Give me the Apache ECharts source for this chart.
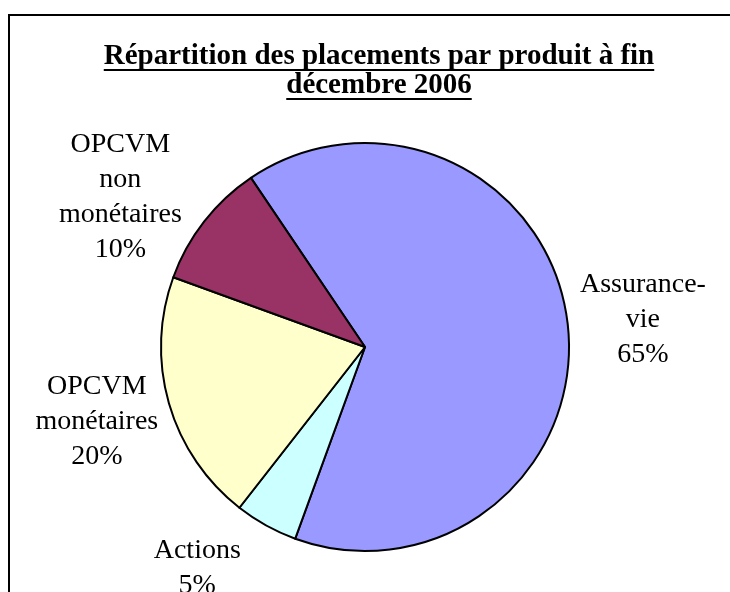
<!DOCTYPE html>
<html>
<head>
<meta charset="utf-8">
<script src="https://cdn.jsdelivr.net/npm/echarts@6/dist/echarts.min.js"></script>
<style>
  html, body { margin: 0; padding: 0; background: #fff; }
  #chart { width: 730px; height: 592px; }
</style>
</head>
<body>
<div id="chart"></div>
<script>
// données du graphique
var titleLines = ['Répartition des placements par produit à fin', 'décembre 2006'];
var categories = ['Assurance-\nvie', 'Actions', 'OPCVM\nmonétaires', 'OPCVM\nnon\nmonétaires'];
var values = [65, 5, 20, 10];
var colors = ['#9999FF', '#CCFFFF', '#FFFFCC', '#993366'];

var titleFont = "bold 29px 'Liberation Serif'";
var labelFont = "'Liberation Serif'";
// décalage des étiquettes (comme Excel les place)
var labelShift = [[0, 7], [-32, -24], [1, -3], [-24, 23]];

function textWidth(txt, font) {
    var c = document.createElement('canvas').getContext('2d');
    c.font = font;
    return c.measureText(txt).width;
}

var pieData = [];
var ringData = [];
for (var i = 0; i < values.length; i++) {
    pieData.push({name: categories[i], value: values[i], itemStyle: {color: colors[i]}});
    ringData.push({name: categories[i], value: values[i]});
}

// cadre + titre souligné
var graphics = [{
    type: 'polyline',
    shape: {points: [[9, 592], [9, 15], [730, 15]]},
    style: {stroke: '#000', lineWidth: 2, fill: null}
}];
var titleX = 379;
var titleY = [57, 86];
titleLines.forEach(function (t, k) {
    var w = textWidth(t, titleFont);
    graphics.push({
        type: 'text',
        x: titleX, y: titleY[k],
        style: {text: t, font: titleFont, fill: '#000', align: 'center', verticalAlign: 'middle'}
    });
    graphics.push({
        type: 'rect',
        shape: {x: titleX - w / 2, y: titleY[k] + 12, width: w, height: 2},
        style: {fill: '#000'}
    });
});

var myChart = echarts.init(document.getElementById('chart'));
var option = {
    animation: false,
    graphic: graphics,
    series: [
        {
            type: 'pie',
            center: [365, 347],
            radius: 204,
            startAngle: 124,
            clockwise: true,
            silent: true,
            label: {show: false},
            labelLine: {show: false},
            itemStyle: {borderColor: '#000', borderWidth: 2},
            data: pieData
        },
        {
            // anneau invisible qui porte les étiquettes
            type: 'pie',
            center: [365, 347],
            radius: [204, 350],
            startAngle: 124,
            clockwise: true,
            silent: true,
            avoidLabelOverlap: false,
            itemStyle: {color: 'rgba(0,0,0,0)', borderWidth: 0},
            label: {
                show: true,
                position: 'inside',
                rotate: 0,
                formatter: '{b}\n{d}%',
                fontFamily: labelFont,
                fontSize: 28,
                lineHeight: 35,
                color: '#000',
                align: 'center'
            },
            labelLine: {show: false},
            labelLayout: function (params) {
                var s = labelShift[params.dataIndex];
                return {dx: s[0], dy: s[1]};
            },
            data: ringData
        }
    ]
};
myChart.setOption(option);
</script>
</body>
</html>
